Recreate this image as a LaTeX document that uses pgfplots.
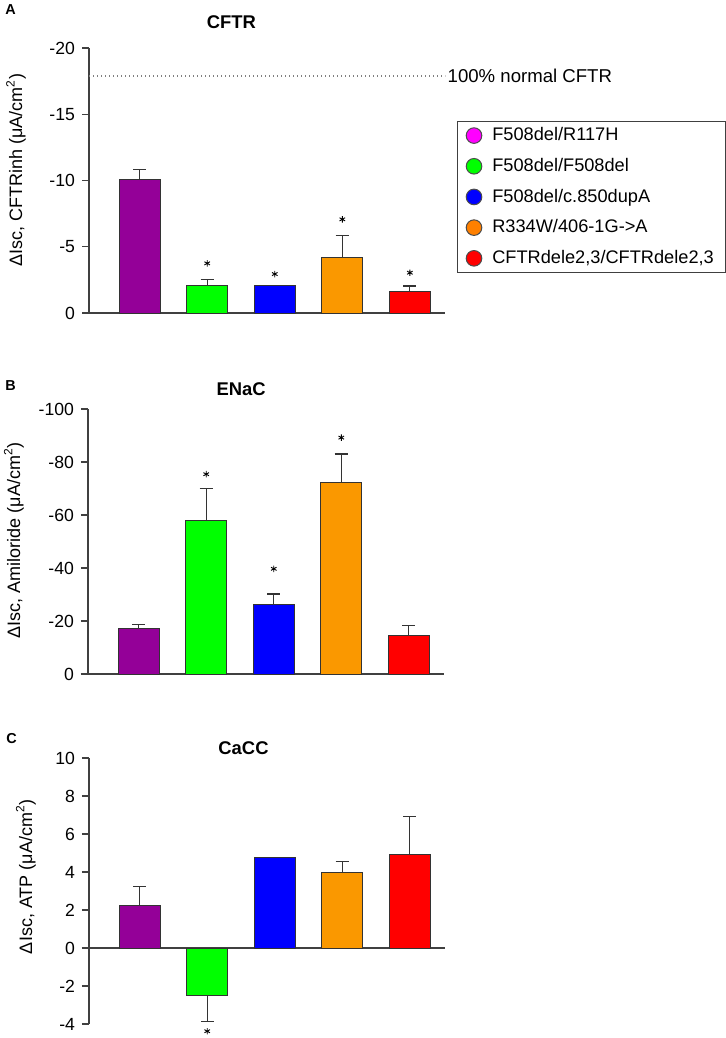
\documentclass[border=0pt]{standalone}
\usepackage{fontspec}
\setmainfont{Liberation Sans}
\usepackage{pgfplots}
\pgfplotsset{compat=1.18}

\definecolor{cpurple}{RGB}{148,0,152}
\definecolor{cgreen}{RGB}{0,255,0}
\definecolor{cblue}{RGB}{0,0,255}
\definecolor{corange}{RGB}{250,152,0}
\definecolor{cred}{RGB}{255,0,0}
\definecolor{lmagenta}{RGB}{255,0,255}
\definecolor{lorange}{RGB}{255,128,0}
\definecolor{axgray}{RGB}{64,64,64}

\pgfplotsset{
  panel/.style={
    scale only axis, width=178pt, height=132.5pt,
    xmin=0.25, xmax=5.52,
    axis x line=middle, axis y line=left,
    axis line style={-, axgray, line width=0.6pt},
    x axis line style={shorten <=-3.5pt},
    xtick=\empty,
    hide obscured x ticks=false, hide obscured y ticks=false,
    ytick pos=left, tick align=outside, major tick length=3.5pt,
    tick style={axgray, line width=0.6pt},
    /pgf/number format/assume math mode=true,
    tick label style={font=\fontsize{8.8}{10}\selectfont},
    ylabel style={font=\fontsize{9}{11}\selectfont, anchor=center},
    title style={font=\fontsize{9.2}{10}\selectfont\bfseries, anchor=base, inner sep=0pt},
    bar width=0.61, bar shift=0pt,
    clip=false,
    error bars/y explicit,
    error bars/error bar style={black!80, line width=0.6pt},
    error bars/error mark options={rotate=90, black!80, mark size=3.3pt, line width=0.6pt},
  },
  bar/.style={ybar, forget plot, fill=#1, draw=black!80, line width=0.5pt},
  star/.style={only marks, mark=asterisk, mark size=1.6pt, black, line width=0.45pt, forget plot},
  legcirc/.style={legend image code/.code={\draw[fill=#1, draw=black!70, line width=0.5pt] (3.9pt,0pt) circle (3.9pt);}},
}

\begin{document}
\begin{tikzpicture}
\useasboundingbox (0,0) rectangle (363pt,-519pt);

\node[anchor=base west, inner sep=0pt, font=\fontsize{7.2}{8}\selectfont\bfseries] at (2.5pt,-7.5pt) {A};
\node[anchor=base west, inner sep=0pt, font=\fontsize{7.2}{8}\selectfont\bfseries] at (2.5pt,-195pt) {B};
\node[anchor=base west, inner sep=0pt, font=\fontsize{7.2}{8}\selectfont\bfseries] at (3pt,-371.7pt) {C};

% ---------- A: CFTR
\begin{axis}[panel,
  at={(44.5pt,-156.5pt)}, anchor=south west,
  y dir=reverse, ymin=-20, ymax=0, ytick={-20,-15,-10,-5,0},
  title={CFTR}, title style={at={(axis description cs:0.40,1.03)}},
  ylabel={ΔIsc, CFTRinh (μA/cm\textsuperscript{2})},
  ylabel style={at={(axis description cs:-0.205,0.54)}},
  legend style={at={(axis description cs:1.034,0.725)}, anchor=north west,
    draw=axgray, line width=0.6pt, font=\fontsize{9.1}{11}\selectfont,
    inner xsep=4pt, inner ysep=1pt, row sep=3.25pt,
    /tikz/every odd column/.append style={column sep=3pt}},
  legend cell align=left,
]
\addplot[bar=cpurple, error bars/y dir=minus] coordinates {(1,-10.05) +- (0,0.80)};
\addplot[bar=cgreen,  error bars/y dir=minus] coordinates {(2,-2.10) +- (0,0.44)};
\addplot[bar=cblue,   error bars/y dir=minus] coordinates {(3,-2.04) +- (0,0.06)};
\addplot[bar=corange, error bars/y dir=minus] coordinates {(4,-4.20) +- (0,1.67)};
\addplot[bar=cred,    error bars/y dir=minus] coordinates {(5,-1.64) +- (0,0.40)};
\addplot[star] coordinates {(2,-3.75) (3,-2.94) (4,-7.07) (5,-3.04)};
\addplot[sharp plot, forget plot, no markers, gray, line width=0.7pt,
  dash pattern=on 0.7pt off 1.3pt]
  coordinates {(0.25,-17.9) (5.52,-17.9)}
  node[pos=1, anchor=west, inner sep=1pt, black, font=\fontsize{9.3}{11}\selectfont] {100\% normal CFTR};
\addlegendimage{legcirc=lmagenta}
\addlegendentry{F508del/R117H}
\addlegendimage{legcirc=cgreen}
\addlegendentry{F508del/F508del}
\addlegendimage{legcirc=cblue}
\addlegendentry{F508del/c.850dupA}
\addlegendimage{legcirc=lorange}
\addlegendentry{R334W/406-1G->A}
\addlegendimage{legcirc=cred}
\addlegendentry{CFTRdele2,3/CFTRdele2,3}
\end{axis}

% ---------- B: ENaC
\begin{axis}[panel,
  at={(44pt,-337pt)}, anchor=south west,
  y dir=reverse, ymin=-100, ymax=0, ytick={-100,-80,-60,-40,-20,0},
  title={ENaC}, title style={at={(axis description cs:0.43,1.0075)}},
  ylabel={ΔIsc, Amiloride (μA/cm\textsuperscript{2})},
  ylabel style={at={(axis description cs:-0.208,0.505)}},
]
\addplot[bar=cpurple, error bars/y dir=minus] coordinates {(1,-17.1) +- (0,1.5)};
\addplot[bar=cgreen,  error bars/y dir=minus] coordinates {(2,-58.0) +- (0,12.1)};
\addplot[bar=cblue,   error bars/y dir=minus] coordinates {(3,-26.1) +- (0,4.1)};
\addplot[bar=corange, error bars/y dir=minus] coordinates {(4,-72.1) +- (0,10.9)};
\addplot[bar=cred,    error bars/y dir=minus] coordinates {(5,-14.6) +- (0,3.8)};
\addplot[star] coordinates {(2,-75.4) (3,-39.7) (4,-89.2)};
\end{axis}

% ---------- C: CaCC
\begin{axis}[panel,
  at={(44.5pt,-512pt)}, anchor=south west,
  height=133pt,
  ymin=-4, ymax=10, ytick={-4,-2,0,2,4,6,8,10},
  title={CaCC}, title style={at={(axis description cs:0.434,0.969)}},
  ylabel={ΔIsc, ATP (μA/cm\textsuperscript{2})},
  ylabel style={at={(axis description cs:-0.177,0.554)}},
]
\addplot[bar=cpurple, error bars/y dir=plus]  coordinates {(1,2.26) +- (0,0.96)};
\addplot[bar=cgreen,  error bars/y dir=minus] coordinates {(2,-2.52) +- (0,1.34)};
\addplot[bar=cblue] coordinates {(3,4.75)};
\addplot[bar=corange, error bars/y dir=plus]  coordinates {(4,3.96) +- (0,0.58)};
\addplot[bar=cred,    error bars/y dir=plus]  coordinates {(5,4.90) +- (0,2.04)};
\addplot[star] coordinates {(2,-4.38)};
\end{axis}
\end{tikzpicture}
\end{document}
